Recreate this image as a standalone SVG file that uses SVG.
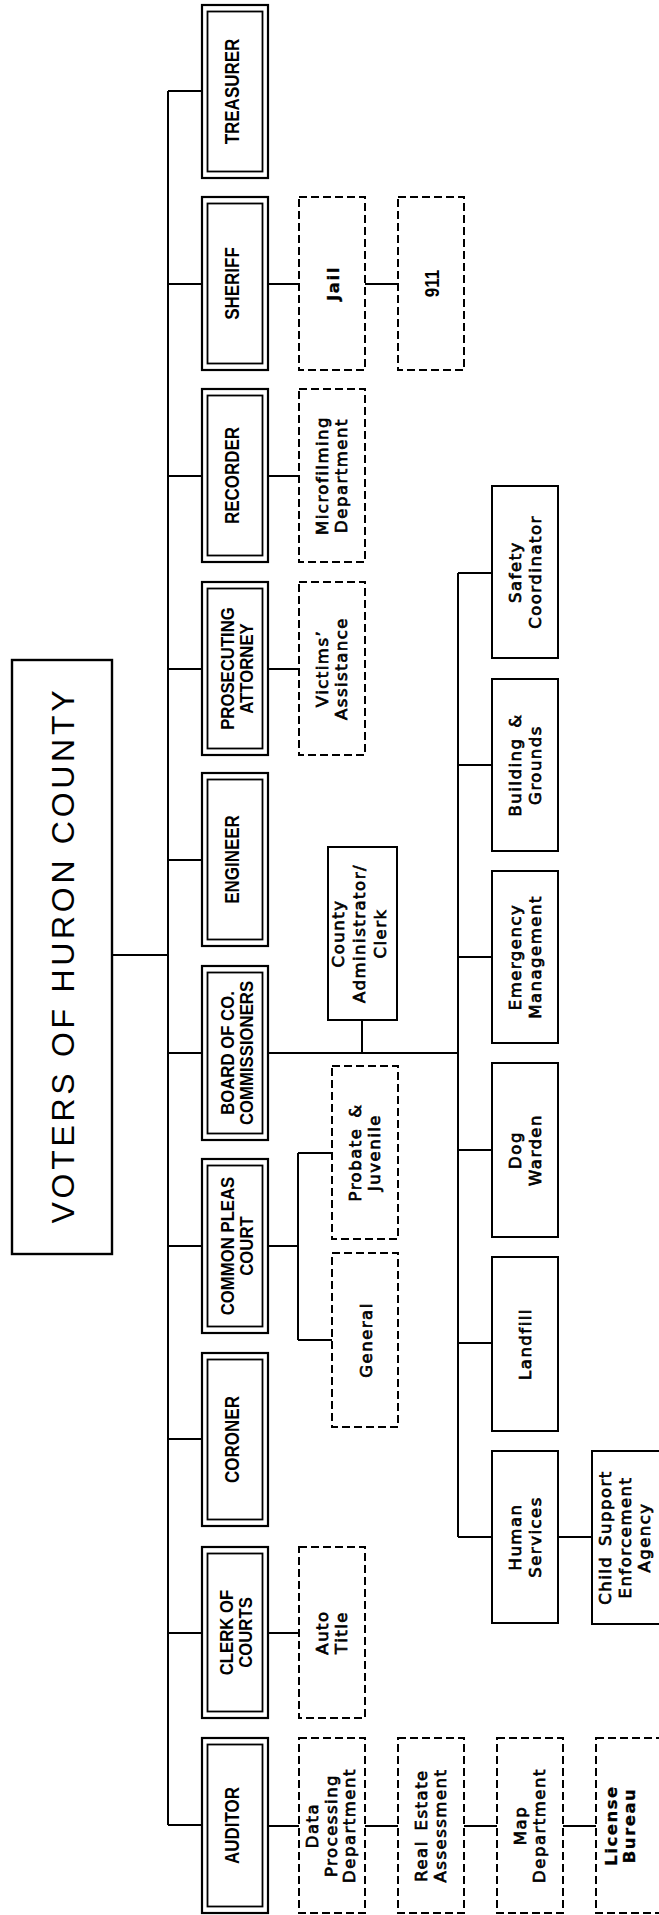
<svg xmlns="http://www.w3.org/2000/svg" width="659" height="1915" viewBox="0 0 659 1915">
<style>
rect{fill:none;stroke:#000}
.o{stroke-width:2.2}
.i{stroke-width:1.8}
.d{stroke-width:2;stroke-dasharray:8 4}
.s{stroke-width:2}
.t{stroke-width:2.4}
.c path{fill:none;stroke:#000;stroke-width:2}
text{fill:#000;text-anchor:middle}
.u1{font-family:"Liberation Sans",Arial,sans-serif;font-weight:bold;font-size:20px}
.u2{font-family:"Liberation Sans",Arial,sans-serif;font-weight:bold;font-size:18px}
.l{font-family:"DejaVu Sans",sans-serif;font-size:16.5px;letter-spacing:1.5px;word-spacing:3px;stroke:#000;stroke-width:0.7}
.b{font-weight:bold;stroke-width:0.3}
.ti{font-family:"Liberation Sans",Arial,sans-serif;font-size:32px}
</style>
<g class="c" id="connectors">
<path d="M168,91V1825"/>
<path d="M112,955H168"/>
<path d="M168,91H202M168,284H202M168,476H202M168,669H202M168,860H202M168,1053H202M168,1246H202M168,1439H202M168,1633H202M168,1825H202"/>
<path d="M268,284H299M365,284H398"/>
<path d="M268,476H299M268,669H299M268,1633H299"/>
<path d="M268,1826H299M365,1826H398M464,1826H497M563,1826H596"/>
<path d="M268,1053H458M362,1020V1053"/>
<path d="M458,573V1537M458,573H492M458,765H492M458,957H492M458,1150H492M458,1343H492M458,1537H492M558,1537H592"/>
<path d="M268,1246H298M298,1153V1340M298,1153H332M298,1340H332"/>
</g>
<g id="voters">
<rect class="t" x="12" y="660" width="100" height="594"/>
<text class="ti" transform="translate(62,957) rotate(-90)" y="12" textLength="533" lengthAdjust="spacing">VOTERS OF HURON COUNTY</text>
</g>
<g id="treasurer">
<rect class="o" x="202" y="5" width="66" height="173"/><rect class="i" x="207.5" y="11.5" width="55" height="160"/>
<text class="u1" transform="translate(235,91.5) rotate(-90) scale(0.85,1)" y="4">TREASURER</text>
</g>
<g id="sheriff">
<rect class="o" x="202" y="197" width="66" height="173"/><rect class="i" x="207.5" y="203.5" width="55" height="160"/>
<text class="u1" transform="translate(235,283.5) rotate(-90) scale(0.85,1)" y="4">SHERIFF</text>
</g>
<g id="recorder">
<rect class="o" x="202" y="389" width="66" height="173"/><rect class="i" x="207.5" y="395.5" width="55" height="160"/>
<text class="u1" transform="translate(235,475.5) rotate(-90) scale(0.85,1)" y="4">RECORDER</text>
</g>
<g id="prosecuting">
<rect class="o" x="202" y="582" width="66" height="173"/><rect class="i" x="207.5" y="588.5" width="55" height="160"/>
<text class="u2" transform="translate(235,668.5) rotate(-90) scale(0.93,1)"><tspan x="0" y="-1">PROSECUTING</tspan><tspan x="0" y="18">ATTORNEY</tspan></text>
</g>
<g id="engineer">
<rect class="o" x="202" y="773" width="66" height="173"/><rect class="i" x="207.5" y="779.5" width="55" height="160"/>
<text class="u1" transform="translate(235,859.5) rotate(-90) scale(0.85,1)" y="4">ENGINEER</text>
</g>
<g id="board">
<rect class="o" x="202" y="966" width="66" height="174"/><rect class="i" x="207.5" y="972.5" width="55" height="161"/>
<text class="u2" transform="translate(235,1053) rotate(-90) scale(0.93,1)"><tspan x="0" y="-1">BOARD OF CO.</tspan><tspan x="0" y="18">COMMISSIONERS</tspan></text>
</g>
<g id="commonpleas">
<rect class="o" x="202" y="1159" width="66" height="174"/><rect class="i" x="207.5" y="1165.5" width="55" height="161"/>
<text class="u2" transform="translate(235,1246) rotate(-90) scale(0.93,1)"><tspan x="0" y="-1">COMMON PLEAS</tspan><tspan x="0" y="18">COURT</tspan></text>
</g>
<g id="coroner">
<rect class="o" x="202" y="1353" width="66" height="173"/><rect class="i" x="207.5" y="1359.5" width="55" height="160"/>
<text class="u1" transform="translate(235,1439.5) rotate(-90) scale(0.85,1)" y="4">CORONER</text>
</g>
<g id="clerk">
<rect class="o" x="202" y="1547" width="66" height="171"/><rect class="i" x="207.5" y="1553.5" width="55" height="158"/>
<text class="u2" transform="translate(235,1632.5) rotate(-90) scale(0.93,1)"><tspan x="0" y="-2">CLERK OF</tspan><tspan x="0" y="17">COURTS</tspan></text>
</g>
<g id="auditor">
<rect class="o" x="202" y="1738" width="66" height="175"/><rect class="i" x="207.5" y="1744.5" width="55" height="162"/>
<text class="u1" transform="translate(235,1825.5) rotate(-90) scale(0.85,1)" y="4">AUDITOR</text>
</g>
<g id="jail">
<rect class="d" x="299" y="197" width="66" height="173"/>
<text class="l b" transform="translate(332,283.5) rotate(-90)" y="7" font-size="18">Jail</text>
</g>
<g id="n911">
<rect class="d" x="398" y="197" width="66" height="173"/>
<text class="u1" transform="translate(431,283.5) rotate(-90) scale(0.85,1)" y="8" font-size="22">911</text>
</g>
<g id="microfilming">
<rect class="d" x="299" y="389" width="66" height="173"/>
<text class="l" transform="translate(332,475.5) rotate(-90)"><tspan x="0" y="-4.5">Microfilming</tspan><tspan x="0" y="14.5">Department</tspan></text>
</g>
<g id="victims">
<rect class="d" x="299" y="582" width="66" height="173"/>
<text class="l" transform="translate(332,668.5) rotate(-90)"><tspan x="0" y="-4.5">Victims’</tspan><tspan x="0" y="14.5">Assistance</tspan></text>
</g>
<g id="autotitle">
<rect class="d" x="299" y="1547" width="66" height="171"/>
<text class="l" transform="translate(332,1632.5) rotate(-90)"><tspan x="0" y="-4.5">Auto</tspan><tspan x="0" y="14.5">Title</tspan></text>
</g>
<g id="dataprocessing">
<rect class="d" x="299" y="1738" width="66" height="175"/>
<text class="l" transform="translate(332,1825.5) rotate(-90)"><tspan x="0" y="-14">Data</tspan><tspan x="0" y="4.5">Processing</tspan><tspan x="0" y="23">Department</tspan></text>
</g>
<g id="realestate">
<rect class="d" x="398" y="1738" width="66" height="175"/>
<text class="l" transform="translate(431,1825.5) rotate(-90)"><tspan x="0" y="-4.5">Real Estate</tspan><tspan x="0" y="14.5">Assessment</tspan></text>
</g>
<g id="map">
<rect class="d" x="497" y="1738" width="66" height="175"/>
<text class="l" transform="translate(530,1825.5) rotate(-90)"><tspan x="0" y="-4.5">Map</tspan><tspan x="0" y="14.5">Department</tspan></text>
</g>
<g id="license">
<rect class="d" x="596" y="1738" width="66" height="175"/>
<text class="l b" transform="translate(625,1825.5) rotate(-90)"><tspan x="0" y="-8">License</tspan><tspan x="0" y="10">Bureau</tspan></text>
</g>
<g id="probate">
<rect class="d" x="332" y="1066" width="66" height="173"/>
<text class="l" transform="translate(365,1152.5) rotate(-90)"><tspan x="0" y="-4.5">Probate &amp;</tspan><tspan x="0" y="14.5">Juvenile</tspan></text>
</g>
<g id="general">
<rect class="d" x="332" y="1253" width="66" height="174"/>
<text class="l" transform="translate(365,1340) rotate(-90)" y="7">General</text>
</g>
<g id="administrator">
<rect class="s" x="328" y="847" width="69" height="173"/>
<text class="l" transform="translate(362.5,933.5) rotate(-90)"><tspan x="0" y="-18.5">County</tspan><tspan x="0" y="2.5">Administrator/</tspan><tspan x="0" y="23.5">Clerk</tspan></text>
</g>
<g id="safety">
<rect class="s" x="492" y="486" width="66" height="172"/>
<text class="l" transform="translate(525,572) rotate(-90)"><tspan x="0" y="-4.5">Safety</tspan><tspan x="0" y="15.5">Coordinator</tspan></text>
</g>
<g id="building">
<rect class="s" x="492" y="679" width="66" height="172"/>
<text class="l" transform="translate(525,765) rotate(-90)"><tspan x="0" y="-4.5">Building &amp;</tspan><tspan x="0" y="15.5">Grounds</tspan></text>
</g>
<g id="emergency">
<rect class="s" x="492" y="871" width="66" height="172"/>
<text class="l" transform="translate(525,957) rotate(-90)"><tspan x="0" y="-4.5">Emergency</tspan><tspan x="0" y="15.5">Management</tspan></text>
</g>
<g id="dogwarden">
<rect class="s" x="492" y="1063" width="66" height="174"/>
<text class="l" transform="translate(525,1150) rotate(-90)"><tspan x="0" y="-4.5">Dog</tspan><tspan x="0" y="15.5">Warden</tspan></text>
</g>
<g id="landfill">
<rect class="s" x="492" y="1257" width="66" height="174"/>
<text class="l" transform="translate(525,1344) rotate(-90)" y="6">Landfill</text>
</g>
<g id="humanservices">
<rect class="s" x="492" y="1451" width="66" height="172"/>
<text class="l" transform="translate(525,1537) rotate(-90)"><tspan x="0" y="-4.5">Human</tspan><tspan x="0" y="15.5">Services</tspan></text>
</g>
<g id="childsupport">
<rect class="s" x="592" y="1451" width="68" height="173"/>
<text class="l" transform="translate(626,1537.5) rotate(-90)"><tspan x="0" y="-15">Child Support</tspan><tspan x="0" y="4.5">Enforcement</tspan><tspan x="0" y="23.5">Agency</tspan></text>
</g>
</svg>
